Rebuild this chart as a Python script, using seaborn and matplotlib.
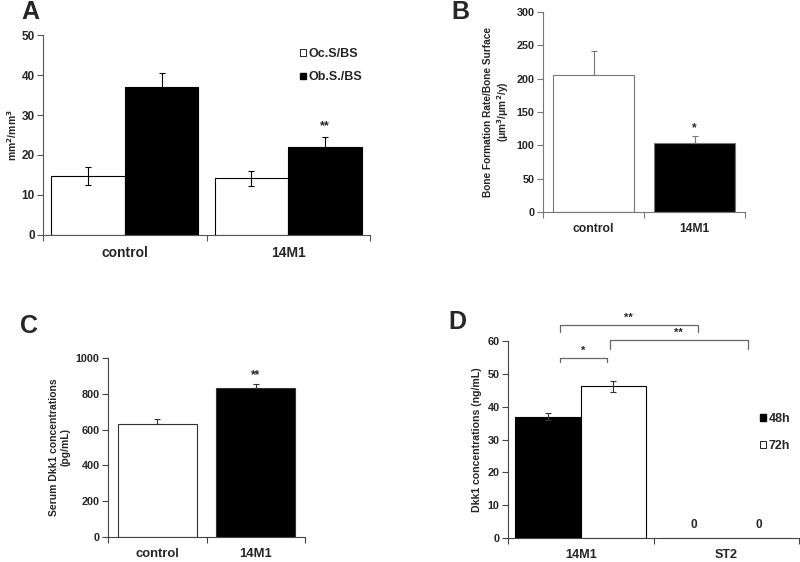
import pandas as pd
import matplotlib.pyplot as plt
import seaborn as sns
from matplotlib.patches import Patch

sns.set_theme(style="ticks")
plt.rcParams["font.family"] = ["Liberation Sans", "DejaVu Sans"]
plt.rcParams["font.weight"] = "bold"

# panel A: surfaces
a_groups = ["control", "14M1"]
a_ocs = [14.7, 14.2]
a_ocs_err = [2.3, 1.9]
a_obs = [37.0, 22.1]
a_obs_err = [3.6, 2.5]

# panel B: bone formation rate
b_groups = ["control", "14M1"]
b_bfr = [205, 103]
b_bfr_err = [37, 11]

# panel C: serum Dkk1
c_groups = ["control", "14M1"]
c_dkk1 = [632, 835]
c_dkk1_err = [30, 18]

# panel D: Dkk1 in culture
d_cells = ["14M1", "ST2"]
d_48h = [37.0, 0.0]
d_48h_err = [1.2, 0.0]
d_72h = [46.2, 0.0]
d_72h_err = [1.6, 0.0]

W, H = 800, 562
fig = plt.figure(figsize=(8, 5.62), dpi=100)


def add_ax(x0, y0, x1, y1):
    # pixel box (top-left origin) -> figure axes
    return fig.add_axes([x0 / W, 1 - y1 / H, (x1 - x0) / W, (y1 - y0) / H])


def style_ax(ax, color, ylim, yticks, tick_fs, xfs):
    ax.set_ylim(*ylim)
    ax.set_yticks(yticks)
    ax.set_xlim(-0.5, 1.5)
    ax.set_xticks([-0.5, 0.5, 1.5], minor=True)
    ax.tick_params(axis="x", which="major", length=0, labelsize=xfs, pad=8)
    ax.tick_params(axis="x", which="minor", length=4, color=color, width=0.8)
    ax.tick_params(axis="y", length=4, color=color, width=0.8, labelsize=tick_fs, pad=2)
    for lab in ax.get_xticklabels() + ax.get_yticklabels():
        lab.set_fontweight("bold")
    sns.despine(ax=ax)
    for s in ["left", "bottom"]:
        ax.spines[s].set_color(color)
        ax.spines[s].set_linewidth(0.8)
    ax.set_xlabel("")


def centers(container):
    return [p.get_x() + p.get_width() / 2 for p in container]


# ---------- A ----------
ax = add_ax(43, 35, 370, 235)
df_a = pd.DataFrame({
    "group": a_groups * 2,
    "measure": ["Oc.S/BS"] * 2 + ["Ob.S./BS"] * 2,
    "value": a_ocs + a_obs,
})
sns.barplot(data=df_a, x="group", y="value", hue="measure",
            palette={"Oc.S/BS": "white", "Ob.S./BS": "black"},
            width=0.9, edgecolor="black", linewidth=0.8, errorbar=None,
            legend=False, ax=ax)
for cont, vals, errs in zip(ax.containers, [a_ocs, a_obs], [a_ocs_err, a_obs_err]):
    ax.errorbar(centers(cont), vals, yerr=errs, fmt="none", ecolor="black",
                elinewidth=0.8, capsize=2.5, capthick=0.8)
ob_x = centers(ax.containers[1])
ax.text(ob_x[1], a_obs[1] + a_obs_err[1] + 1.2, "**", ha="center", va="bottom",
        fontsize=9, fontweight="bold")
style_ax(ax, "#555555", (0, 50), range(0, 51, 10), 8.5, 10)
ax.set_ylabel("mm$^\\mathbf{2}$/mm$^\\mathbf{3}$", fontsize=7.5, fontweight="bold", labelpad=2)
ax.legend(handles=[Patch(facecolor="white", edgecolor="black", linewidth=0.6),
                   Patch(facecolor="black", edgecolor="black")],
          labels=["Oc.S/BS", "Ob.S./BS"], frameon=False,
          loc="upper left", bbox_to_anchor=(289 / W, 1 - 37 / H),
          bbox_transform=fig.transFigure, handlelength=0.45, handleheight=0.45,
          handletextpad=0.2, labelspacing=0.9, prop={"size": 9, "weight": "bold"})

# ---------- B ----------
ax = add_ax(543, 12, 745, 212)
df_b = pd.DataFrame({"group": b_groups, "value": b_bfr})
sns.barplot(data=df_b, x="group", y="value", hue="group",
            palette=["white", "black"], width=0.8, edgecolor="#777777",
            linewidth=0.8, errorbar=None, legend=False, ax=ax)
bx = [c for cont in ax.containers for c in centers(cont)]
ax.errorbar(bx, b_bfr, yerr=[[0, 0], b_bfr_err], fmt="none", ecolor="#777777",
            elinewidth=0.8, capsize=2.5, capthick=0.8)
ax.text(bx[1], b_bfr[1] + b_bfr_err[1] + 3, "*", ha="center", va="bottom",
        fontsize=8.5, fontweight="bold")
style_ax(ax, "#777777", (0, 300), range(0, 301, 50), 7.8, 8.7)
ax.set_ylabel("Bone Formation Rate/Bone Surface\n(μm$^\\mathbf{3}$/μm$^\\mathbf{2}$/y)",
              fontsize=7.3, fontweight="bold", labelpad=4)

# ---------- C ----------
ax = add_ax(108, 358, 305, 537)
df_c = pd.DataFrame({"group": c_groups, "value": c_dkk1})
sns.barplot(data=df_c, x="group", y="value", hue="group",
            palette=["white", "black"], width=0.8, edgecolor="#333333",
            linewidth=0.8, errorbar=None, legend=False, ax=ax)
cx = [c for cont in ax.containers for c in centers(cont)]
ax.errorbar(cx, c_dkk1, yerr=[[0, 0], c_dkk1_err], fmt="none", ecolor="#333333",
            elinewidth=0.8, capsize=2.5, capthick=0.8)
ax.text(cx[1], c_dkk1[1] + c_dkk1_err[1] + 15, "**", ha="center", va="bottom",
        fontsize=8.5, fontweight="bold")
style_ax(ax, "#444444", (0, 1000), range(0, 1001, 200), 7.8, 9.4)
ax.set_ylabel("Serum Dkk1 concentrations\n(pg/mL)", fontsize=7.5,
              fontweight="bold", labelpad=4)

# ---------- D ----------
ax = add_ax(508, 341, 799, 538)
df_d = pd.DataFrame({
    "cell": d_cells * 2,
    "time": ["48h"] * 2 + ["72h"] * 2,
    "value": d_48h + d_72h,
})
sns.barplot(data=df_d, x="cell", y="value", hue="time",
            palette={"48h": "black", "72h": "white"}, width=0.9,
            edgecolor="black", linewidth=0.8, errorbar=None, legend=False, ax=ax)
for cont, vals, errs in zip(ax.containers, [d_48h, d_72h], [d_48h_err, d_72h_err]):
    xs = centers(cont)
    ax.errorbar(xs[:1], vals[:1], yerr=errs[:1], fmt="none", ecolor="#333333",
                elinewidth=0.8, capsize=2, capthick=0.8)
    ax.text(xs[1], vals[1] + 2, "0", ha="center", va="bottom",
            fontsize=8.5, fontweight="bold")
style_ax(ax, "#444444", (0, 60), range(0, 61, 10), 7.8, 9.1)
ax.set_ylabel("Dkk1 concentrations (ng/mL)", fontsize=7.6, fontweight="bold", labelpad=4)

# significance brackets
br_kw = dict(color="#666666", lw=0.9, clip_on=False)
for x0, x1, y, drop in [(-0.145, 0.807, 64.9, 2.2),
                        (0.20, 1.152, 60.3, 2.8),
                        (-0.145, 0.18, 54.8, 1.3)]:
    ax.plot([x0, x0, x1, x1], [y - drop, y, y, y - drop], **br_kw)
ax.text(0.33, 65.6, "**", ha="center", va="bottom", fontsize=8, fontweight="bold")
ax.text(0.67, 61.0, "**", ha="center", va="bottom", fontsize=8, fontweight="bold")
ax.text(0.02, 55.5, "*", ha="center", va="bottom", fontsize=8, fontweight="bold")

ax.legend(handles=[Patch(facecolor="black", edgecolor="black"),
                   Patch(facecolor="white", edgecolor="black", linewidth=0.6)],
          labels=["48h", "72h"], frameon=False,
          loc="upper left", bbox_to_anchor=(749 / W, 1 - 402 / H),
          bbox_transform=fig.transFigure, handlelength=0.45, handleheight=0.45,
          handletextpad=0.2, labelspacing=1.2, prop={"size": 9, "weight": "bold"})

# panel letters
for lab, px, py in [("A", 21, 0), ("B", 451, 0), ("C", 20, 314), ("D", 448, 310)]:
    fig.text(px / W, 1 - py / H, lab, ha="left", va="top", fontsize=18,
             fontweight="bold")

fig.savefig("out.png", dpi=100, facecolor="white")
